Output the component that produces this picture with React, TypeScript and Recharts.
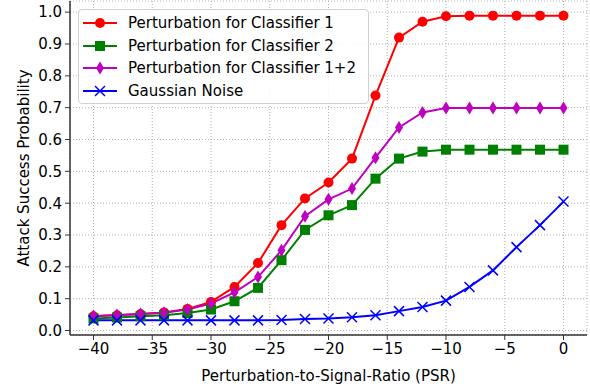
import React from 'react'
import { LineChart, Line, XAxis, YAxis, CartesianGrid } from "recharts";

const psr = [-40, -38, -36, -34, -32, -30, -28, -26, -24, -22, -20, -18, -16, -14, -12, -10, -8, -6, -4, -2, 0];
const classifier1 = [0.045, 0.048, 0.052, 0.057, 0.068, 0.09, 0.137, 0.212, 0.331, 0.415, 0.465, 0.54, 0.738, 0.92, 0.97, 0.987, 0.989, 0.989, 0.989, 0.989, 0.989];
const classifier2 = [0.038, 0.041, 0.045, 0.048, 0.055, 0.066, 0.092, 0.134, 0.221, 0.316, 0.362, 0.394, 0.477, 0.54, 0.562, 0.568, 0.568, 0.568, 0.568, 0.568, 0.568];
const classifier12 = [0.046, 0.049, 0.052, 0.056, 0.066, 0.085, 0.12, 0.168, 0.252, 0.359, 0.412, 0.446, 0.543, 0.638, 0.685, 0.699, 0.699, 0.699, 0.699, 0.699, 0.699];
const gaussian = [0.032, 0.032, 0.032, 0.032, 0.032, 0.032, 0.032, 0.032, 0.033, 0.036, 0.038, 0.042, 0.048, 0.061, 0.074, 0.094, 0.137, 0.189, 0.262, 0.331, 0.405];
const xTicks = [-40, -35, -30, -25, -20, -15, -10, -5, 0];
const yTicks = [0, 0.1, 0.2, 0.3, 0.4, 0.5, 0.6, 0.7, 0.8, 0.9, 1.0];

const data = psr.map((x, i) => ({
  psr: x,
  c1: classifier1[i],
  c2: classifier2[i],
  c12: classifier12[i],
  gn: gaussian[i],
}));

const FONT = "'DejaVu Sans', sans-serif";
const FS = 15;

// marker shapes, matplotlib style
const Marker = ({ kind, cx, cy, color }: { kind: string; cx: number; cy: number; color: string }) => {
  if (kind === "circle") return <circle cx={cx} cy={cy} r={5} fill={color} />;
  if (kind === "square") return <rect x={cx - 5} y={cy - 5} width={10} height={10} fill={color} />;
  if (kind === "diamond")
    return <polygon points={`${cx},${cy - 6.5} ${cx + 4},${cy} ${cx},${cy + 6.5} ${cx - 4},${cy}`} fill={color} />;
  return (
    <g stroke={color} strokeWidth={1.5}>
      <line x1={cx - 5} y1={cy - 5} x2={cx + 5} y2={cy + 5} />
      <line x1={cx - 5} y1={cy + 5} x2={cx + 5} y2={cy - 5} />
    </g>
  );
};

const makeDot = (kind: string, color: string) => (props: any) => (
  <Marker key={props.key ?? `${kind}-${props.index}`} kind={kind} cx={props.cx} cy={props.cy} color={color} />
);

const series = [
  { key: "c1", name: "Perturbation for Classifier 1", color: "#ff0000", marker: "circle" },
  { key: "c2", name: "Perturbation for Classifier 2", color: "#008000", marker: "square" },
  { key: "c12", name: "Perturbation for Classifier 1+2", color: "#bf00bf", marker: "diamond" },
  { key: "gn", name: "Gaussian Noise", color: "#0000ff", marker: "x" },
];

const LegendBox = () => (
  <div style={{
    position: "absolute", left: 78, top: 9,
    background: "rgba(255,255,255,0.85)", border: "1px solid #d0d0d0", borderRadius: 4,
    width: 291, height: 95, boxSizing: "border-box", padding: "2px 0 0 4px",
    fontFamily: FONT, fontSize: FS, color: "#000", whiteSpace: "nowrap",
  }}>
    {series.map((s) => (
      <div key={s.key} style={{ display: "flex", alignItems: "center", height: 22.5 }}>
        <svg width={45} height={22}>
          <line x1={0} y1={11} x2={34} y2={11} stroke={s.color} strokeWidth={2} />
          <Marker kind={s.marker} cx={17} cy={11} color={s.color} />
        </svg>
        <span>{s.name}</span>
      </div>
    ))}
  </div>
);

const fmtX = (v: number) => String(v).replace("-", "\u2212");

export default function App() {
  return (
    <div style={{ position: "absolute", left: 0, top: 0, width: 590, height: 390, background: "#fff" }}>
      <LineChart width={590} height={390} data={data} margin={{ top: 1, right: 3, left: 0, bottom: 0 }}>
        <CartesianGrid stroke="#b0b0b0" strokeDasharray="1 2" strokeWidth={1} />
        <XAxis
          dataKey="psr"
          type="number"
          domain={[-42, 2]}
          ticks={xTicks}
          tickFormatter={fmtX}
          height={55}
          tickSize={5}
          tickMargin={3}
          tick={{ fill: "#000", fontSize: FS, fontFamily: FONT }}
          stroke="#333"
          axisLine={{ stroke: "#333", strokeWidth: 1.5 }}
          label={{ value: "Perturbation-to-Signal-Ratio (PSR)", position: "insideBottom", offset: 9, fill: "#000", fontSize: FS, fontFamily: FONT }}
        />
        <XAxis xAxisId="top" orientation="top" type="number" domain={[-42, 2]} height={0} tick={false} tickLine={false}
          axisLine={{ stroke: "#333", strokeWidth: 1.5 }} />
        <YAxis
          type="number"
          domain={[-0.014, 1.035]}
          ticks={yTicks}
          tickFormatter={(v: number) => v.toFixed(1)}
          width={70}
          tickSize={5}
          tickMargin={3}
          tick={{ fill: "#000", fontSize: FS, fontFamily: FONT }}
          stroke="#333"
          axisLine={{ stroke: "#333", strokeWidth: 1.5 }}
          label={{ value: "Attack Success Probability", angle: -90, position: "insideLeft", offset: 24, style: { textAnchor: "middle" }, fill: "#000", fontSize: FS, fontFamily: FONT }}
        />
        <YAxis yAxisId="right" orientation="right" type="number" domain={[-0.014, 1.035]} width={0} tick={false} tickLine={false}
          axisLine={{ stroke: "#333", strokeWidth: 1.5 }} />
        {series.map((s) => (
          <Line
            key={s.key}
            dataKey={s.key}
            name={s.name}
            stroke={s.color}
            strokeWidth={2}
            dot={makeDot(s.marker, s.color)}
            activeDot={false}
            isAnimationActive={false}
          />
        ))}
      </LineChart>
      <LegendBox />
    </div>
  );
}
